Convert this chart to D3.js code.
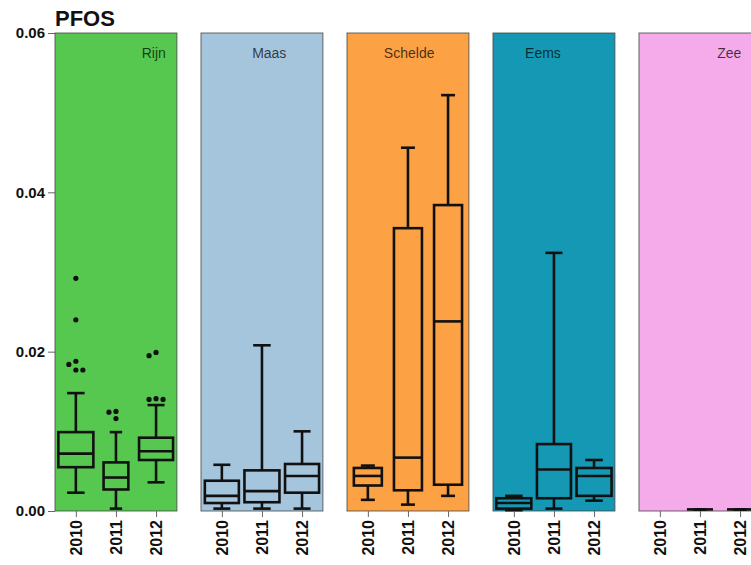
<!DOCTYPE html>
<html>
<head>
<meta charset="utf-8">
<script src="https://cdn.jsdelivr.net/npm/d3@7"></script>
<style>
  body { margin: 0; background: #fff; }
  svg { display: block; font-family: "Liberation Sans", Arial, sans-serif; }
</style>
</head>
<body>
<svg id="chart"></svg>
<script>
const regions = ["Rijn", "Maas", "Schelde", "Eems", "Zee"];
const years = ["2010", "2011", "2012"];
const yTicks = [0, 0.02, 0.04, 0.06];

// [lower whisker, Q1, median, Q3, upper whisker] per year, null = no data
const rijnStats = [
    [0.0023, 0.0055, 0.0072, 0.0099, 0.0148],
    [0.0003, 0.0027, 0.0042, 0.0061, 0.0099],
    [0.0036, 0.0064, 0.0075, 0.0092, 0.0133]
];
const maasStats = [
    [0.0003, 0.0010, 0.0019, 0.0038, 0.0058],
    [0.0003, 0.0011, 0.0025, 0.0051, 0.0208],
    [0.0003, 0.0023, 0.0044, 0.0059, 0.0100]
];
const scheldeStats = [
    [0.0014, 0.0032, 0.0044, 0.0054, 0.0057],
    [0.0008, 0.0026, 0.0067, 0.0355, 0.0456],
    [0.0019, 0.0033, 0.0238, 0.0384, 0.0522]
];
const eemsStats = [
    [0.0001, 0.0003, 0.0010, 0.0016, 0.0019],
    [0.0003, 0.0016, 0.0052, 0.0084, 0.0324],
    [0.0013, 0.0019, 0.0044, 0.0054, 0.0064]
];
const zeeStats = [
    null,
    [0.0002, 0.0002, 0.0002, 0.0002, 0.0002],
    [0.0002, 0.0002, 0.0002, 0.0002, 0.0002]
];

// outliers per year
const rijnOutliers = [
    [0.0292, 0.0240, 0.0188, 0.0184, 0.0177, 0.0177],
    [0.0125, 0.0124, 0.0116],
    [0.0199, 0.0195, 0.0141, 0.0140, 0.0140]
];
const noOutliers = [[], [], []];

// sample sizes (box width ~ sqrt(n))
const rijnN = [36, 18, 34];
const maasN = [34, 36, 34];
const scheldeN = [23, 23, 23];
const eemsN = [36, 34, 36];
const zeeN = [0, 20, 20];

const stats = [rijnStats, maasStats, scheldeStats, eemsStats, zeeStats];
const outliers = [rijnOutliers, noOutliers, noOutliers, noOutliers, noOutliers];
const counts = [rijnN, maasN, scheldeN, eemsN, zeeN];

// panel look
const panelColors = ["#56c850", "#a5c5dd", "#fca244", "#1598b4", "#f5aaea"];
const labelPos = [0.81, 0.56, 0.51, 0.41, 0.74]; // label centre as share of panel width

const svgWidth = 751;
const svgHeight = 565;

const svg = d3.select("#chart")
    .attr("width", svgWidth)
    .attr("height", svgHeight);

// Scales
const y = d3.scaleLinear()
    .domain([0, 0.06])
    .range([511, 33]);

const panelX = d3.scaleBand()
    .domain(regions)
    .range([55, 760.9])
    .paddingInner(0.165)
    .paddingOuter(0);

const yearX = d3.scalePoint()
    .domain(years)
    .range([0, panelX.bandwidth()])
    .padding(0.52);

const boxW = d3.scaleSqrt()
    .domain([0, 36])
    .range([0, 35]);

// Title
svg.append("text")
    .attr("x", 55)
    .attr("y", 26)
    .attr("font-size", 22)
    .attr("font-weight", "bold")
    .attr("fill", "#111")
    .text("PFOS");

// y axis
const yAxis = svg.append("g")
    .attr("transform", "translate(55,0)")
    .call(d3.axisLeft(y).tickValues(yTicks).tickFormat(d3.format(".2f")).tickSize(7).tickPadding(3));
yAxis.select(".domain").remove();
yAxis.selectAll("line").attr("stroke", "#666");
yAxis.selectAll("text")
    .attr("font-size", 15)
    .attr("font-weight", "bold")
    .attr("font-family", "Liberation Sans, Arial, sans-serif")
    .attr("fill", "#111");

// simple dodge so overlapping outliers sit side by side
function dodge(values) {
    const placed = [];
    const offsets = [0, -7, 7, -14, 14];
    values.forEach(v => {
        const py = y(v);
        for (const o of offsets) {
            const clash = placed.some(p => Math.hypot(p.x - o, p.y - py) < 6);
            if (!clash) { placed.push({ x: o, y: py }); break; }
        }
    });
    return placed;
}

const panels = svg.selectAll("g.panel")
    .data(regions)
    .enter()
    .append("g")
    .attr("class", "panel")
    .attr("transform", d => `translate(${panelX(d)},0)`);

panels.append("rect")
    .attr("x", 0)
    .attr("y", y(0.06))
    .attr("width", panelX.bandwidth())
    .attr("height", y(0) - y(0.06))
    .attr("fill", (d, i) => panelColors[i])
    .attr("stroke", "#444")
    .attr("stroke-opacity", 0.8)
    .attr("stroke-width", 1);

panels.append("text")
    .attr("x", (d, i) => panelX.bandwidth() * labelPos[i])
    .attr("y", y(0.06) + 25)
    .attr("text-anchor", "middle")
    .attr("font-size", 14)
    .attr("fill", "#000")
    .attr("fill-opacity", 0.72)
    .text(d => d);

panels.each(function (region, ri) {
    const g = d3.select(this);

    years.forEach((yr, yi) => {
        const s = stats[ri][yi];
        if (!s) return;
        const cx = yearX(yr);
        const w = boxW(counts[ri][yi]);
        const [lo, q1, med, q3, hi] = s;
        const bg = g.append("g")
            .attr("stroke", "#111")
            .attr("stroke-width", 2.6)
            .attr("fill", "none");

        // whiskers
        bg.append("line").attr("x1", cx).attr("x2", cx).attr("y1", y(q3)).attr("y2", y(hi));
        bg.append("line").attr("x1", cx).attr("x2", cx).attr("y1", y(q1)).attr("y2", y(lo));
        bg.append("line").attr("x1", cx - w / 4).attr("x2", cx + w / 4).attr("y1", y(hi)).attr("y2", y(hi));
        bg.append("line").attr("x1", cx - w / 4).attr("x2", cx + w / 4).attr("y1", y(lo)).attr("y2", y(lo));

        // box
        bg.append("rect")
            .attr("x", cx - w / 2)
            .attr("y", y(q3))
            .attr("width", w)
            .attr("height", Math.max(0, y(q1) - y(q3)));
        bg.append("line").attr("x1", cx - w / 2).attr("x2", cx + w / 2).attr("y1", y(med)).attr("y2", y(med));

        // outliers
        g.selectAll(null)
            .data(dodge(outliers[ri][yi]))
            .enter()
            .append("circle")
            .attr("cx", d => cx + d.x)
            .attr("cy", d => d.y)
            .attr("r", 2.6)
            .attr("fill", "#111");
    });

    // x axis below the panel
    const xAxis = g.append("g")
        .attr("transform", `translate(0,${y(0)})`)
        .call(d3.axisBottom(yearX).tickSize(6).tickPadding(0));
    xAxis.select(".domain").remove();
    xAxis.selectAll("line").attr("stroke", "#666");
    xAxis.selectAll("text")
        .attr("transform", "rotate(-90)")
        .attr("text-anchor", "end")
        .attr("x", -9)
        .attr("y", 0)
        .attr("dy", "0.35em")
        .attr("font-size", 16)
        .attr("font-weight", "bold")
        .attr("font-family", "Liberation Sans, Arial, sans-serif")
        .attr("fill", "#111");
});
</script>
</body>
</html>
